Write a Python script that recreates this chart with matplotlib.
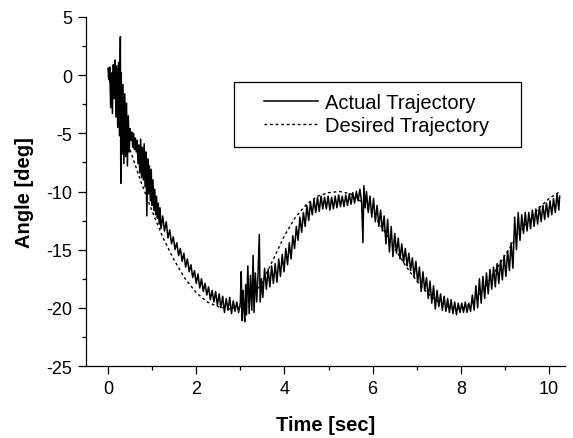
import numpy as np
import matplotlib.pyplot as plt
from matplotlib.patches import Rectangle
from matplotlib.ticker import MultipleLocator

plt.rcParams['font.family'] = ['Liberation Sans', 'DejaVu Sans']
plt.rcParams['axes.unicode_minus'] = False

# Desired trajectory (smooth reference)
t_des = [0.00, 0.25, 0.50, 0.75, 1.00, 1.25, 1.50, 1.75, 2.00, 2.25, 2.50, 2.75,
         3.00, 3.25, 3.50, 3.75, 4.00, 4.25, 4.50, 4.75, 5.00, 5.25, 5.50, 5.75,
         6.00, 6.25, 6.50, 6.75, 7.00, 7.25, 7.50, 7.75, 8.00, 8.25, 8.50, 8.75,
         9.00, 9.25, 9.50, 9.75, 10.00, 10.25]
ang_des = [0.0, -3.3, -6.4, -9.2, -11.7, -14.0, -15.9, -17.5, -18.7, -19.5, -19.9, -20.1,
           -19.9, -19.2, -17.8, -15.8, -13.8, -12.2, -11.1, -10.4, -10.1, -10.0, -10.2, -10.9,
           -11.9, -13.3, -14.9, -16.4, -17.7, -18.8, -19.5, -20.0, -20.1, -19.6, -18.5, -17.0,
           -15.5, -14.0, -12.7, -11.5, -10.6, -10.0]

t_act = [0.00, 0.02, 0.04, 0.06, 0.08, 0.10, 0.12, 0.14, 0.16, 0.18, 0.20, 0.22,
         0.24, 0.26, 0.28, 0.29, 0.30, 0.32, 0.34, 0.36, 0.38, 0.40, 0.42, 0.44,
         0.46, 0.48, 0.50, 0.52, 0.54, 0.56, 0.58, 0.60, 0.62, 0.64, 0.66, 0.68,
         0.70, 0.72, 0.74, 0.76, 0.78, 0.80, 0.82, 0.84, 0.86, 0.88, 0.90, 0.92,
         0.94, 0.96, 0.98, 1.00, 1.02, 1.04, 1.06, 1.08, 1.10, 1.12, 1.14, 1.16,
         1.18, 1.20,
         1.24, 1.28, 1.32, 1.36, 1.40, 1.44, 1.48, 1.52, 1.56, 1.60, 1.64, 1.68,
         1.72, 1.76, 1.80, 1.84, 1.88, 1.92, 1.96, 2.00, 2.04, 2.08, 2.12, 2.16,
         2.20, 2.24, 2.28, 2.32, 2.36, 2.40, 2.44, 2.48, 2.52, 2.56, 2.60, 2.64,
         2.68, 2.72, 2.76, 2.80, 2.84, 2.88, 2.92, 2.96, 3.00,
         3.02, 3.04, 3.06, 3.08, 3.10, 3.12, 3.14, 3.17, 3.20, 3.23, 3.26, 3.29,
         3.31, 3.34, 3.37, 3.40, 3.43, 3.45, 3.48, 3.51,
         3.55, 3.59, 3.63, 3.67, 3.71, 3.75, 3.79, 3.83, 3.87, 3.91, 3.95, 3.99,
         4.03, 4.07, 4.11, 4.15, 4.19, 4.23, 4.27, 4.31, 4.35, 4.39, 4.43, 4.47,
         4.51, 4.55, 4.59, 4.63, 4.67, 4.71, 4.75, 4.79, 4.83, 4.87,
         4.91, 4.95, 4.99, 5.03, 5.07, 5.11, 5.15, 5.19, 5.23, 5.27, 5.31, 5.35,
         5.39, 5.43, 5.47, 5.51, 5.55, 5.59, 5.63, 5.67, 5.71, 5.75, 5.78, 5.80,
         5.83, 5.86,
         5.90, 5.94, 5.98, 6.02, 6.06, 6.10, 6.14, 6.18, 6.22, 6.26, 6.30, 6.34,
         6.38, 6.42, 6.46, 6.50, 6.54, 6.58, 6.62, 6.66, 6.70, 6.74, 6.78, 6.82,
         6.86, 6.90, 6.94, 6.98, 7.02, 7.06, 7.10, 7.14, 7.18, 7.22, 7.26, 7.30,
         7.34, 7.38, 7.42, 7.46, 7.50, 7.54, 7.58, 7.62, 7.66, 7.70, 7.74, 7.78,
         7.82, 7.86, 7.90, 7.94, 7.98, 8.02, 8.06, 8.10, 8.14, 8.18, 8.22,
         8.26, 8.30, 8.34, 8.38, 8.42, 8.46, 8.50, 8.54, 8.58, 8.62, 8.66, 8.70,
         8.74, 8.78, 8.82, 8.86, 8.90, 8.94, 8.98, 9.02, 9.06, 9.10, 9.14, 9.18,
         9.22, 9.26, 9.30, 9.34, 9.38, 9.42, 9.46, 9.50, 9.54, 9.58, 9.62, 9.66,
         9.70, 9.74, 9.78, 9.82, 9.86, 9.90, 9.94, 9.98, 10.02, 10.06, 10.10, 10.14,
         10.18, 10.22, 10.24]
ang_act = [0.6, -0.4, 0.7, -2.8, 0.2, -3.3, 0.9, -2.0, 1.3, -3.6, 0.8, -4.5,
           1.1, -5.2, 3.3, -9.3, 0.2, -6.8, -0.8, -7.6, -1.6, -7.0, -2.4, -7.8,
           -3.5, -6.6, -4.6, -5.6, -4.9, -6.2, -5.0, -6.4, -5.4, -6.6, -5.6, -7.6,
           -6.0, -8.4, -5.5, -8.8, -6.2, -9.0, -5.9, -9.6, -6.6, -12.1, -7.2, -10.2,
           -7.8, -10.8, -8.1, -11.2, -9.0, -11.6, -9.8, -12.0, -10.4, -12.3, -11.0, -12.8,
           -11.4, -13.2,
           -12.1, -13.4, -12.6, -14.0, -13.3, -14.5, -13.9, -15.0, -14.4, -15.5, -14.9, -16.0,
           -15.3, -16.5, -15.8, -16.9, -16.3, -17.4, -16.8, -17.9, -17.1, -18.3, -17.5, -18.6,
           -17.9, -18.9, -18.2, -19.3, -18.5, -19.5, -18.6, -19.8, -18.8, -20.0, -19.0, -20.4,
           -19.2, -20.2, -19.1, -20.5, -19.4, -20.3, -19.5, -20.4, -19.6,
           -16.9, -21.1, -18.5, -20.0, -21.2, -18.0, -20.6, -16.4, -20.5, -17.2, -20.2, -15.5,
           -20.4, -17.0, -19.5, -17.2, -13.7, -19.5, -17.5, -19.1,
           -16.6, -18.4, -16.7, -18.2, -16.4, -17.9, -16.2, -17.8, -15.8, -17.3, -15.4, -16.9,
           -14.9, -16.3, -14.4, -15.8, -13.8, -14.9, -13.0, -14.2, -12.2, -13.5, -11.8, -13.0,
           -11.2, -12.5, -10.9, -12.0, -10.7, -11.8, -10.5, -11.7, -10.4, -11.5,
           -10.5, -11.5, -10.4, -11.6, -10.5, -11.5, -10.4, -11.4, -10.3, -11.3, -10.4, -11.3,
           -10.3, -11.2, -10.2, -11.1, -10.1, -11.0, -10.0, -10.8, -9.8, -10.9, -14.4, -9.5,
           -11.4, -10.0,
           -11.8, -10.4, -12.2, -10.6, -12.6, -11.2, -13.0, -11.6, -13.4, -12.1, -14.5, -12.4,
           -15.2, -13.0, -15.6, -13.6, -15.3, -14.0, -15.8, -14.5, -16.1, -14.9, -16.4, -15.3,
           -16.8, -15.7, -17.3, -16.0, -17.8, -16.5, -18.6, -16.9, -18.5, -17.4, -19.2, -17.7,
           -19.6, -18.1, -20.1, -18.5, -19.9, -18.8, -20.2, -19.0, -20.3, -19.2, -20.4, -19.3,
           -20.5, -19.5, -20.6, -19.6, -20.4, -19.6, -20.4, -19.5, -20.4, -19.6, -20.3,
           -18.9, -20.2, -18.1, -20.0, -17.5, -19.6, -17.3, -19.2, -17.0, -18.8, -16.7, -18.4,
           -16.5, -18.2, -16.2, -17.9, -15.9, -17.6, -15.5, -17.3, -15.1, -16.8, -14.4, -16.6,
           -12.2, -15.0, -11.8, -14.2, -12.0, -13.6, -11.8, -13.4, -11.8, -13.2, -11.6, -13.0,
           -11.5, -12.8, -11.3, -12.6, -11.2, -12.4, -11.0, -12.2, -10.8, -12.0, -10.6, -11.8,
           -10.2, -11.6, -10.4]

fig = plt.figure(figsize=(5.73, 4.39), dpi=100)
ax = fig.add_axes([0.150, 0.164, 0.836, 0.795])

ax.plot(t_act, ang_act, '-', color='k', lw=1.1, label='Actual Trajectory')
ax.plot(t_des, ang_des, color='k', lw=1.0, linestyle=(0, (2, 2)), label='Desired Trajectory')

ax.set_xlim(-0.5, 10.36)
ax.set_ylim(-25, 5)
ax.xaxis.set_major_locator(MultipleLocator(2))
ax.xaxis.set_minor_locator(MultipleLocator(1))
ax.yaxis.set_major_locator(MultipleLocator(5))
ax.yaxis.set_minor_locator(MultipleLocator(2.5))
ax.spines['top'].set_visible(False)
ax.spines['right'].set_visible(False)
for s in ['left', 'bottom']:
    ax.spines[s].set_linewidth(0.9)
ax.tick_params(which='major', direction='out', length=6, width=0.9, labelsize=13, pad=4)
ax.tick_params(which='minor', direction='out', length=3, width=0.9)

ax.set_xlabel('Time [sec]', fontsize=14.5, fontweight='bold', labelpad=13)
ax.set_ylabel('Angle [deg]', fontsize=14.5, fontweight='bold', labelpad=9)

# legend box drawn by hand so the frame is wider than its content
ax.add_patch(Rectangle((0.310, 0.627), 0.599, 0.188, transform=ax.transAxes,
                       fill=False, ec='k', lw=0.9, zorder=5))
ax.legend(loc='center', bbox_to_anchor=(0.607, 0.721), frameon=False, fontsize=14.5,
          handlelength=2.7, handletextpad=0.35, labelspacing=0.2, borderpad=0)

fig.savefig('out.png', dpi=100)
